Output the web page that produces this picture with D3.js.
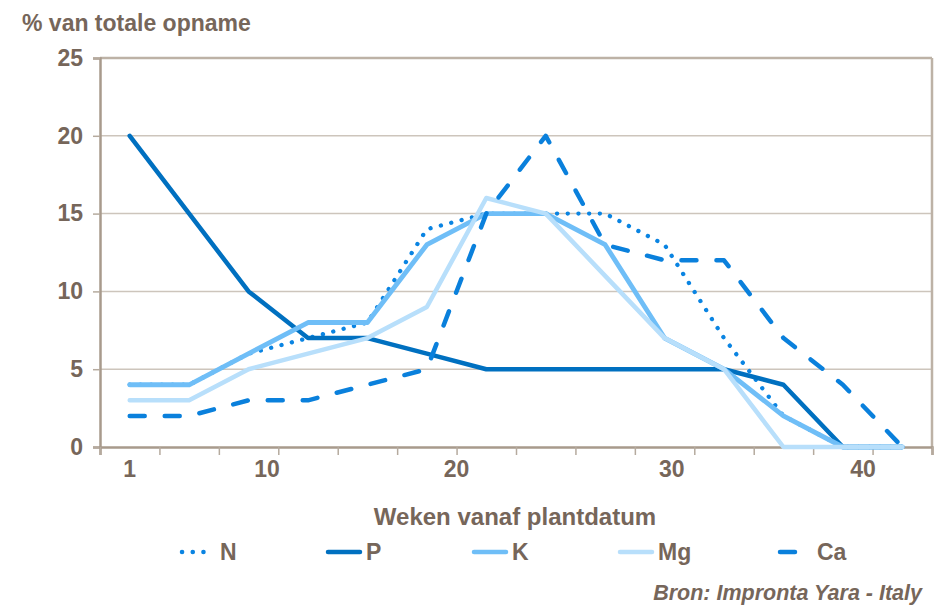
<!DOCTYPE html>
<html lang="nl">
<head>
<meta charset="UTF-8">
<title>% van totale opname</title>
<script src="https://d3js.org/d3.v7.min.js"></script>
<style>
    body { margin: 0; padding: 0; background: #fff; }
    svg { display: block; font-family: "Liberation Sans", Arial, sans-serif; }
    .lbl { fill: #76665a; font-weight: bold; }
</style>
</head>
<body>
<svg id="chart" width="945" height="616"></svg>
<script>
// 14 categories (weeks after planting), values in % of total uptake
const seriesNames = ['N', 'P', 'K', 'Mg', 'Ca'];
const N  = [4, 4, 6, 7, 8, 14, 15, 15, 15, 13, 7, 2, 0, 0];
const P  = [20, 15, 10, 7, 7, 6, 5, 5, 5, 5, 5, 4, 0, 0];
const K  = [4, 4, 6, 8, 8, 13, 15, 15, 13, 7, 5, 2, 0, 0];
const Mg = [3, 3, 5, 6, 7, 9, 16, 15, 11, 7, 5, 0, 0, 0];
const Ca = [2, 2, 3, 3, 4, 5, 15, 20, 13, 12, 12, 7, 4, 0];

// x-axis labels and where they sit on the category index scale
const xTickLabels = ['1', '10', '20', '30', '40'];
const xTickAt = [0.5, 2.81, 6.0, 9.62, 12.84];
const yTicks = [0, 5, 10, 15, 20, 25];

const values = { N, P, K, Mg, Ca };
const styles = {
    N:  { color: '#0a84e2', width: 4.3, dash: '0.1 10.6' },
    P:  { color: '#0070c0', width: 4.5, dash: null },
    K:  { color: '#6fbef7', width: 4.8, dash: null },
    Mg: { color: '#b8dffb', width: 4.5, dash: null },
    Ca: { color: '#0a80dc', width: 4.5, dash: '15 20' }
};

const svg = d3.select('#chart');
const nCat = N.length;

const x = d3.scaleLinear().domain([0, nCat]).range([100, 932]);
const y = d3.scaleLinear().domain([0, 25]).range([447, 58]);

// gridlines
svg.append('g')
    .selectAll('line')
    .data(yTicks.filter(d => d > 0))
    .enter().append('line')
    .attr('x1', x(0)).attr('x2', x(nCat))
    .attr('y1', d => y(d)).attr('y2', d => y(d))
    .attr('stroke', d => d === 25 ? '#bdb2a6' : '#cdc5bc')
    .attr('stroke-width', d => d === 25 ? 2.5 : 1.5);

// right border
svg.append('line')
    .attr('x1', x(nCat)).attr('x2', x(nCat))
    .attr('y1', y(25)).attr('y2', y(0))
    .attr('stroke', '#bdb2a6').attr('stroke-width', 2.5);

// y axis
const yAxis = svg.append('g')
    .attr('transform', `translate(${x(0)},0)`)
    .call(d3.axisLeft(y).tickValues(yTicks).tickSize(7).tickFormat(d3.format('d')));
yAxis.select('.domain').attr('stroke', '#a89a8c').attr('stroke-width', 2.5);
yAxis.selectAll('.tick line').attr('stroke', '#b5aa9e').attr('stroke-width', 1.5);
yAxis.selectAll('.tick text')
    .attr('class', 'lbl')
    .attr('x', -17)
    .attr('font-size', 23)
    .attr('font-family', '"Liberation Sans", Arial, sans-serif');

// x axis: ticks on category boundaries
const xAxis = svg.append('g')
    .attr('transform', `translate(0,${y(0)})`)
    .call(d3.axisBottom(x).tickValues(d3.range(0, nCat + 1)).tickSize(8).tickFormat(''));
xAxis.select('.domain').attr('stroke', '#a89a8c').attr('stroke-width', 2.5);
xAxis.selectAll('.tick line').attr('stroke', '#b5aa9e').attr('stroke-width', 1.5);

svg.append('g')
    .selectAll('text')
    .data(xTickLabels)
    .enter().append('text')
    .attr('class', 'lbl')
    .attr('x', (d, i) => x(xTickAt[i]))
    .attr('y', 477)
    .attr('text-anchor', 'middle')
    .attr('font-size', 23)
    .text(d => d);

// lines
const line = d3.line()
    .x((d, i) => x(i + 0.5))
    .y(d => y(d));

svg.append('g')
    .selectAll('path')
    .data(seriesNames)
    .enter().append('path')
    .attr('d', d => line(values[d]))
    .attr('fill', 'none')
    .attr('stroke', d => styles[d].color)
    .attr('stroke-width', d => styles[d].width)
    .attr('stroke-dasharray', d => styles[d].dash)
    .attr('stroke-linecap', 'round')
    .attr('stroke-linejoin', 'round');

// titles
svg.append('text')
    .attr('class', 'lbl')
    .attr('x', 22).attr('y', 31)
    .attr('font-size', 23)
    .text('% van totale opname');

svg.append('text')
    .attr('class', 'lbl')
    .attr('x', 515).attr('y', 525)
    .attr('text-anchor', 'middle')
    .attr('font-size', 24)
    .text('Weken vanaf plantdatum');

// legend
const legend = svg.append('g')
    .selectAll('g')
    .data(seriesNames)
    .enter().append('g')
    .attr('transform', (d, i) => `translate(${180 + i * 146},552)`);

legend.append('line')
    .attr('x1', 2).attr('x2', 34)
    .attr('stroke', d => styles[d].color)
    .attr('stroke-width', 4.5)
    .attr('stroke-dasharray', d => styles[d].dash)
    .attr('stroke-dashoffset', d => d === 'Ca' ? 21 : 0)
    .attr('stroke-linecap', 'round');

legend.append('text')
    .attr('class', 'lbl')
    .attr('x', d => d === 'Ca' ? 53 : 40)
    .attr('y', 8)
    .attr('font-size', 23)
    .text(d => d);

// source
svg.append('text')
    .attr('class', 'lbl')
    .attr('x', 922).attr('y', 600)
    .attr('text-anchor', 'end')
    .attr('font-size', 21.5)
    .attr('font-style', 'italic')
    .text('Bron: Impronta Yara - Italy');
</script>
</body>
</html>
